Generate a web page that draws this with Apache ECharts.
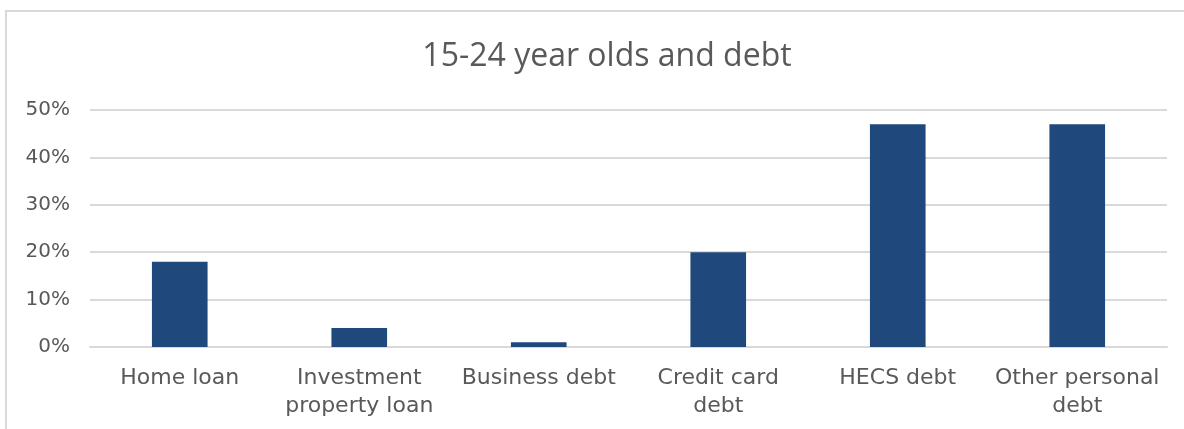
<!DOCTYPE html>
<html>
<head>
<meta charset="utf-8">
<script src="https://cdn.jsdelivr.net/npm/echarts@6/dist/echarts.min.js"></script>
<style>
  html, body { margin: 0; padding: 0; background: #fff; }
  #chart { width: 1184px; height: 429px; }
</style>
</head>
<body>
<div id="chart"></div>
<script>
// chart data
const categories = ['Home loan', 'Investment\nproperty loan', 'Business debt', 'Credit card\ndebt', 'HECS debt', 'Other personal\ndebt']
const shares = [18, 4, 1, 20, 47, 47]
const yTicks = [0, 10, 20, 30, 40, 50]

const chart = echarts.init(document.getElementById('chart'))
chart.setOption({
  animation: false,
  graphic: [
    {
      type: 'rect',
      shape: { x: 6, y: 11, width: 1200, height: 440 },
      style: { fill: 'none', stroke: '#d9d9d9', lineWidth: 2 }
    }
  ],
  title: {
    text: '15-24 year olds and debt',
    left: 602,
    textAlign: 'center',
    top: 36,
    textStyle: { fontFamily: 'Open Sans', fontSize: 32, fontWeight: 'normal', color: '#595959' }
  },
  grid: { left: 90, right: 17, top: 110, bottom: 82 },
  xAxis: {
    type: 'category',
    data: categories,
    axisLine: { lineStyle: { color: '#d9d9d9', width: 2 } },
    axisTick: { show: false },
    axisLabel: {
      interval: 0,
      margin: 17,
      color: '#595959',
      fontFamily: 'DejaVu Sans',
      fontSize: 22,
      lineHeight: 28
    }
  },
  yAxis: {
    type: 'value',
    min: yTicks[0],
    max: yTicks[yTicks.length - 1],
    interval: 10,
    axisLine: { show: false },
    axisTick: { show: false },
    splitLine: { lineStyle: { color: '#d9d9d9', width: 2 } },
    axisLabel: {
      margin: 20,
      color: '#595959',
      fontFamily: 'DejaVu Sans',
      fontSize: 20,
      formatter: '{value}%'
    }
  },
  series: [
    {
      type: 'bar',
      data: shares,
      barWidth: '31%',
      itemStyle: { color: '#1f497d' }
    }
  ]
})
</script>
</body>
</html>
